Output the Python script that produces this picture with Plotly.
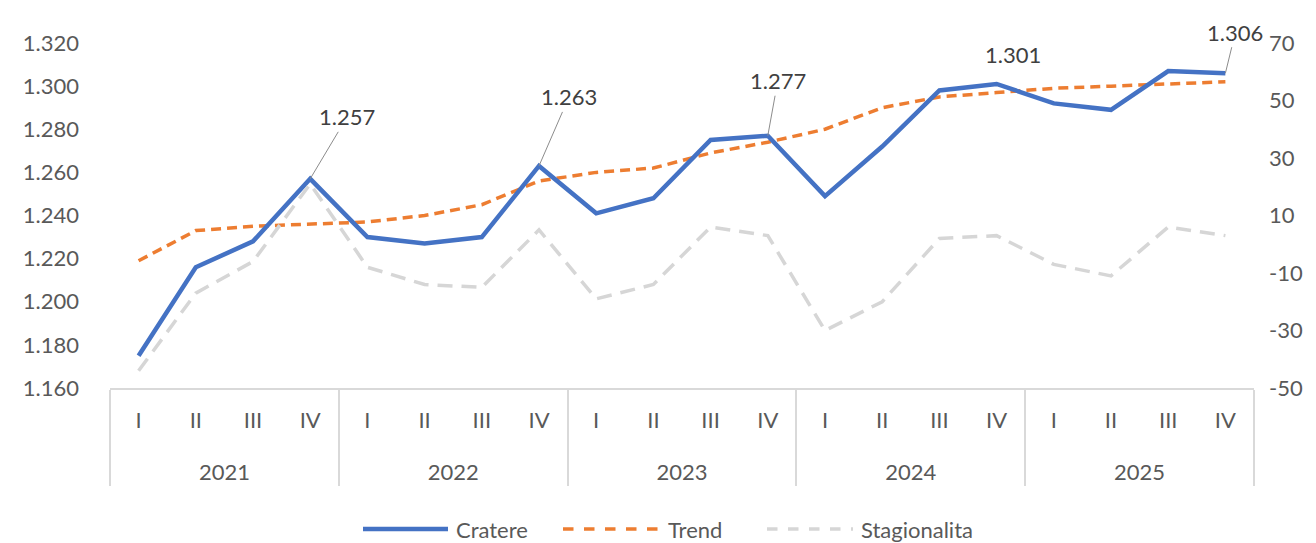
import plotly.graph_objects as go

# ---------------- data ----------------
years = ["2021", "2022", "2023", "2024", "2025"]
quarters = ["I", "II", "III", "IV"]

cratere = [1175, 1216, 1228, 1257,
           1230, 1227, 1230, 1263,
           1241, 1248, 1275, 1277,
           1249, 1272, 1298, 1301,
           1292, 1289, 1307, 1306]
trend = [1219, 1233, 1235, 1236,
         1237, 1240, 1245, 1256,
         1260, 1262, 1269, 1274,
         1280, 1290, 1295, 1297,
         1299, 1300, 1301, 1302]
stagionalita = [-44, -17, -6, 21,
                -8, -14, -15, 5,
                -19, -14, 6, 3,
                -30, -20, 2, 3,
                -7, -11, 6, 3]

left_ticks = [1160, 1180, 1200, 1220, 1240, 1260, 1280, 1300, 1320]
right_ticks = [-50, -30, -10, 10, 30, 50, 70]
right_labels = ["-50", "-30", "-10", "10", "30", "50", "70"]

# indices of the labelled points and their label offsets (px)
label_idx = [3, 7, 11, 15, 19]
label_off = [(37, -62, True), (30, -69, True), (10, -55, True), (16, -29, False), (10, -41, True)]

legend_names = ["Cratere", "Trend", "Stagionalita"]

# ---------------- styles ----------------
FONT = "Lato, 'Open Sans', sans-serif"
TXT = "#595959"
BLUE = "#4472C4"
ORANGE = "#ED7D31"
GRAY = "#D6D6D6"
AXIS = "#D9D9D9"

x_year = [y for y in years for _ in quarters]
# blank second line under each quarter label leaves room above the year row
x_q = [q + "<br><span style='font-size:52px'> </span>" for _ in years for q in quarters]
xcat = [x_year, x_q]

fig = go.Figure()
fig.add_trace(go.Scatter(x=xcat, y=stagionalita, name=legend_names[2], mode="lines",
                         line=dict(color=GRAY, width=3.5, dash="15px,9px"), yaxis="y2"))
fig.add_trace(go.Scatter(x=xcat, y=trend, name=legend_names[1], mode="lines",
                         line=dict(color=ORANGE, width=3.5, dash="10px,6px")))
fig.add_trace(go.Scatter(x=xcat, y=cratere, name=legend_names[0], mode="lines",
                         line=dict(color=BLUE, width=4.5)))


def fmt(v):
    return f"{v:,}".replace(",", ".")


annotations = []
for i, (ax, ay, arrow) in zip(label_idx, label_off):
    a = dict(x=i, y=cratere[i], xref="x", yref="y", text=fmt(cratere[i]),
             font=dict(family=FONT, size=22, color="#404040"))
    if arrow:
        a.update(showarrow=True, arrowhead=0, arrowwidth=1, arrowcolor="#8C8C8C",
                 ax=ax, ay=ay, standoff=0)
    else:
        a.update(showarrow=False, xshift=ax, yshift=-ay)
    annotations.append(a)

# custom legend (long line samples like Excel)
W, H, L, T = 1316, 543, 110, 43
PW, PH = W - L - 62, H - T - 155


def px(xp):
    return (xp - L) / PW


def py(yp):
    return (T + PH - yp) / PH


shapes = []
leg = [(363, 448, BLUE, 4.5, "solid"), (563, 660, ORANGE, 3.5, "dash"), (767, 853, GRAY, 3.5, "dash")]
leg_y = 529
for (x0, x1, c, w, d), name in zip(leg, legend_names):
    shapes.append(dict(type="line", xref="paper", yref="paper", x0=px(x0), x1=px(x1),
                       y0=py(leg_y), y1=py(leg_y), line=dict(color=c, width=w, dash=d)))
    annotations.append(dict(xref="paper", yref="paper", x=px(x1 + 6), y=py(leg_y),
                            xanchor="left", yanchor="middle", showarrow=False, text=name,
                            font=dict(family=FONT, size=22, color=TXT)))

fig.update_layout(
    width=W, height=H,
    margin=dict(l=L, r=62, t=T, b=155, pad=0),
    paper_bgcolor="white", plot_bgcolor="white",
    font=dict(family=FONT, size=22, color=TXT),
    showlegend=False,
    separators=",.",
    xaxis=dict(type="multicategory", range=[-0.5, 19.5], showgrid=False, zeroline=False,
               showline=True, linecolor=AXIS, linewidth=1.5,
               showdividers=True, dividercolor=AXIS, dividerwidth=1.5,
               ticks="", ticklabelstandoff=12,
               tickfont=dict(family=FONT, size=22, color=TXT)),
    yaxis=dict(range=[1160, 1320], tickvals=left_ticks, tickformat=",", showgrid=False,
               zeroline=False, showline=False, ticklabelstandoff=30,
               tickfont=dict(family=FONT, size=22, color=TXT)),
    yaxis2=dict(range=[-50, 70], tickvals=right_ticks, ticktext=right_labels, overlaying="y",
                side="right", showgrid=False, zeroline=False, showline=False,
                ticklabelstandoff=14, tickfont=dict(family=FONT, size=22, color=TXT)),
    annotations=annotations,
    shapes=shapes,
)

fig.write_html("out.html", config={"displayModeBar": False},
               post_script="document.body.style.margin='0';")
